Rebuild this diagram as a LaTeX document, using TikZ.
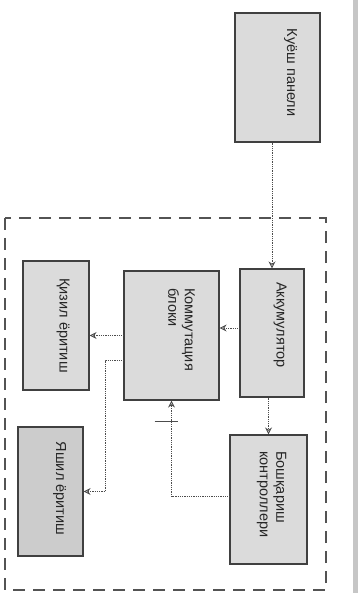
\documentclass[tikz,border=0pt]{standalone}
\usepackage{fontspec}
\setmainfont{Liberation Sans}
\usepackage{xcolor}
\usetikzlibrary{arrows.meta, calc}

\tikzset{
    blok/.style={draw=black!75, line width=1.1pt, fill=gray!28},
    yozuv/.style={rotate=-90, align=left, font=\fontsize{14.5}{16.5}\selectfont, text=black!85},
    ulash/.style={densely dotted, gray!60!black, line width=0.8pt,
        -{Stealth[length=7pt, width=7pt, fill=gray!45]}},
    ramka/.style={gray!65!black, line width=2pt, dash pattern=on 12pt off 8pt}
}

\begin{document}
\begin{tikzpicture}[x=1pt, y=-1pt]
    \useasboundingbox (0,0) rectangle (358,593);
    \fill[white] (0,0) rectangle (358,593);
    % scan edge
    \fill[gray!45] (353,0) rectangle (358,593);

    % Frame round the system
    \draw[ramka] (5,218) rectangle (326,590);

    % Blocks
    \node[blok, minimum width=85pt, minimum height=129pt] (panel) at (277.5,77.5) {};
    \node[blok, minimum width=64pt, minimum height=128pt] (accu) at (272,333) {};
    \node[blok, minimum width=95pt, minimum height=129pt] (komm) at (171.5,335.5) {};
    \node[blok, minimum width=66pt, minimum height=129pt] (kizil) at (56,325.5) {};
    \node[blok, fill=gray!40, minimum width=65pt, minimum height=129pt] (yashil) at (50.5,491.5) {};
    \node[blok, minimum width=77pt, minimum height=129pt] (kontr) at (268.5,499.5) {};

    % Labels
    \node[yozuv] (panel-t) at ([xshift=13pt, yshift=5pt]panel.center) {Куёш панели};
    \node[yozuv] (accu-t) at ([xshift=8pt, yshift=8pt]accu.center) {Аккумулятор};
    \node[yozuv] (komm-t) at ([xshift=10pt, yshift=6pt]komm.center) {Коммутация\\блоки};
    \node[yozuv] (kizil-t) at ([xshift=7pt]kizil.center) {Қизил ёритиш};
    \node[yozuv] (yashil-t) at ([xshift=9pt, yshift=3pt]yashil.center) {Яшил ёритиш};
    \node[yozuv] (kontr-t) at ([xshift=3pt, yshift=5pt]kontr.center) {Бошқариш\\контроллери};

    % Connectors
    \draw[ulash] (accu.north |- panel.south) -- (accu.north);
    \draw[ulash] ([yshift=5pt]accu.west) -- ([yshift=5pt]accu.west -| komm.east);
    \draw[ulash] (komm.west) -- (komm.west -| kizil.east);
    \draw[ulash] ([yshift=-25pt]komm.west) -- ++(-18,0) |- (yashil.east);
    \draw[ulash] (kontr.north |- accu.south) -- (kontr.north);
    \draw[ulash] ([yshift=3pt]kontr.west) -| (komm.south);
    \draw[black!70, line width=1.3pt] ([xshift=-17pt, yshift=-21pt]komm.south) -- ++(23,0);
\end{tikzpicture}
\end{document}
